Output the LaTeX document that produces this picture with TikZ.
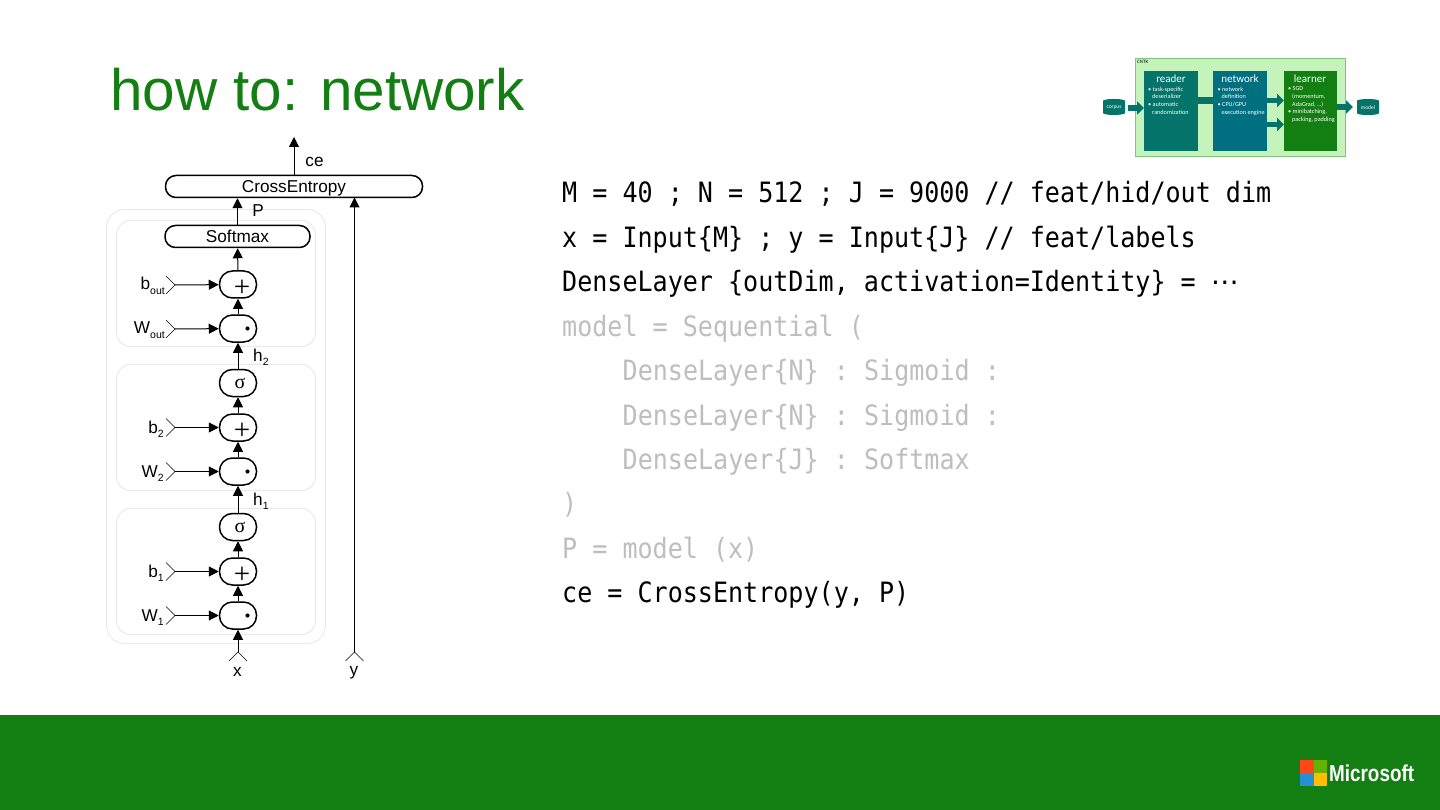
\documentclass[tikz,border=0pt]{standalone}
\usepackage{fontspec}
\setmainfont{Liberation Sans}
\newfontfamily\titlefont{Liberation Sans}
\newfontfamily\codefont[FakeStretch=0.895]{DejaVu Sans Mono}
\newfontfamily\thumbfont{Carlito}
\newfontfamily\serifsym{Liberation Serif}
\newfontfamily\dotsfont{DejaVu Sans}
\newfontfamily\logofont[FakeStretch=0.82]{Liberation Sans}
\usetikzlibrary{arrows.meta,shapes.geometric}
\definecolor{msgreen}{RGB}{19,127,18}
\definecolor{codegray}{RGB}{190,190,190}
\definecolor{frameg}{RGB}{232,232,232}
\definecolor{thumbbg}{RGB}{196,243,188}
\definecolor{thumbedge}{RGB}{130,195,125}
\definecolor{tteal}{RGB}{4,115,105}
\definecolor{tblue}{RGB}{0,112,128}
\tikzset{
 x=1pt,y=-1pt,
 opnode/.style={draw=black,line width=1.5pt,rounded corners=13pt,minimum width=37pt,minimum height=27pt,inner sep=0pt,fill=white},
 wide/.style={draw=black,line width=1.5pt,rounded corners=10.5pt,minimum height=22pt,inner sep=0pt,text height=14pt,text depth=2pt,font=\fontsize{17.2}{17.2}\selectfont,fill=white},
 grp/.style={draw=frameg,line width=0.8pt,rounded corners=14pt},
 conn/.style={black,line width=1pt,-{Triangle[length=10pt,width=10pt]}},
 lbl/.style={inner sep=0pt,font=\fontsize{17.2}{17.2}\selectfont},
 code/.style={anchor=base west,inner sep=0pt,font=\codefont\fontsize{28}{28}\selectfont},
 faded/.style={code,text=codegray},
 tarrow/.style={line width=5.5pt,tteal,-{Triangle[length=7pt,width=13pt]}},
 ttitle/.style={inner sep=0pt,text=white,font=\thumbfont\fontsize{11}{11}\selectfont},
 ttext/.style={inner sep=0pt,anchor=north west,text=white,align=left,font=\thumbfont\fontsize{6.2}{7.7}\selectfont},
 tdb/.style={cylinder,shape border rotate=90,aspect=0.25,draw=none,fill=tteal,inner sep=0pt,minimum width=22pt,minimum height=16pt,text=white,font=\thumbfont\fontsize{5.5}{5.5}\selectfont},
}
\newcommand{\inchevron}[1]{\draw[black,line width=.6pt] ([shift={(-9,-9)}]#1) -- (#1) -- ([shift={(-9,9)}]#1);}
\newcommand{\upchevron}[1]{\draw[black,line width=.6pt] ([shift={(-9,9)}]#1) -- (#1) -- ([shift={(9,9)}]#1);}
\newcommand{\sbs}[1]{\raisebox{-4.5pt}{\fontsize{10.5}{10.5}\selectfont #1}}
\begin{document}
\begin{tikzpicture}
\useasboundingbox (0,0) rectangle (1440,810);
\fill[white] (0,0) rectangle (1440,810);
\fill[msgreen] (0,715) rectangle (1440,810);
\node[anchor=base west,inner sep=0pt,text=msgreen,font=\titlefont\fontsize{58.4}{58.4}\selectfont] (title) at (110,111) {how to: network};

% groups
\draw[grp,rounded corners=18pt] (106.5,209.5) rectangle (325.5,643.5);
\draw[grp] (116.5,220.5) rectangle (315.5,346.5);
\draw[grp] (116.5,364.5) rectangle (315.5,490.5);
\draw[grp] (116.5,508.5) rectangle (315.5,634.5);

% nodes
\node[wide,minimum width=257pt] (ce) at (294,186.5) {CrossEntropy};
\node[wide,minimum width=145pt] (sm) at (237.5,236.5) {Softmax};
\node[opnode] (pout) at (238,284.5) {};
\node[opnode] (tout) at (238,328.5) {};
\node[opnode] (s2) at (238,383) {};
\node[opnode] (p2) at (238,427.5) {};
\node[opnode] (t2) at (238,471.5) {};
\node[opnode] (s1) at (238,527) {};
\node[opnode] (p1) at (238,571.5) {};
\node[opnode] (t1) at (238,615.5) {};
\foreach \n in {pout,p2,p1} \node[inner sep=0pt,font=\serifsym\fontsize{29}{29}\selectfont] at ([xshift=4pt,yshift=-3.5pt]\n.center) {+};
\foreach \n in {tout,t2,t1} \fill ([xshift=9.5pt]\n.center) circle (2.1pt);
\foreach \n in {s2,s1} \node[inner sep=0pt,font=\serifsym\fontsize{20}{20}\selectfont] at ([xshift=2pt,yshift=-0.5pt]\n.center) {σ};

% free ends
\coordinate (top) at (294,137);
\coordinate (xin) at (238,652);
\coordinate (yin) at (354.5,652);
\coordinate (ibout) at (175,285);
\coordinate (iwout) at (175,329);
\coordinate (ib2) at (175,427.5);
\coordinate (iw2) at (175,471.5);
\coordinate (ib1) at (175,571.5);
\coordinate (iw1) at (175,615.5);
\coordinate (yend) at (354.5,197.5);

% connectors
\draw[conn] (ce) -- (top);
\draw[conn] (sm.north) -- (sm.north |- ce.south);
\draw[conn] (yin) -- (yend);
\draw[conn] (pout) -- (sm);
\draw[conn] (tout) -- (pout);
\draw[conn] (s2) -- (tout);
\draw[conn] (p2) -- (s2);
\draw[conn] (t2) -- (p2);
\draw[conn] (s1) -- (t2);
\draw[conn] (p1) -- (s1);
\draw[conn] (t1) -- (p1);
\draw[conn] (xin) -- (t1);
\draw[conn] (ibout) -- (pout);
\draw[conn] (iwout) -- (tout);
\draw[conn] (ib2) -- (p2);
\draw[conn] (iw2) -- (t2);
\draw[conn] (ib1) -- (p1);
\draw[conn] (iw1) -- (t1);
\foreach \c in {ibout,iwout,ib2,iw2,ib1,iw1} {\inchevron{\c}}
\foreach \c in {xin,yin} {\upchevron{\c}}

% labels
\node[lbl] (lce) at (314.5,161.5) {ce};
\node[lbl] (lp) at (258,210.5) {P};
\node[lbl,anchor=base east] at (165,290) {b\sbs{out}};
\node[lbl,anchor=base east] at (165,334) {W\sbs{out}};
\node[lbl,anchor=base west] at (253,361) {h\sbs{2}};
\node[lbl,anchor=base east] at (164,433) {b\sbs{2}};
\node[lbl,anchor=base east] at (164,477) {W\sbs{2}};
\node[lbl,anchor=base west] at (253,505) {h\sbs{1}};
\node[lbl,anchor=base east] at (164,577) {b\sbs{1}};
\node[lbl,anchor=base east] at (164,621) {W\sbs{1}};
\node[lbl] at (237.5,672) {x};
\node[lbl] at (354,672.5) {y};

% code
\node[code] at (562,203) {M = 40 ; N = 512 ; J = 9000 // feat/hid/out dim};
\node[code] at (562,247.3) {x = Input\{M\} ; y = Input\{J\} // feat/labels};
\node[code] at (562,291.7) {DenseLayer \{outDim, activation=Identity\} = {\dotsfont ⋯}};
\node[faded] at (562,336) {model = Sequential (};
\node[faded] at (622.5,380.5) {DenseLayer\{N\} : Sigmoid :};
\node[faded] at (622.5,425) {DenseLayer\{N\} : Sigmoid :};
\node[faded] at (622.5,469) {DenseLayer\{J\} : Softmax};
\node[faded] at (562,513.5) {)};
\node[faded] at (562,558) {P = model (x)};
\node[code] at (562,602.5) {ce = CrossEntropy(y, P)};

% thumbnail
\fill[thumbbg,draw=thumbedge,line width=.7pt] (1135.5,58.5) rectangle (1345.5,156.5);
\node[anchor=north west,inner sep=0pt,font=\thumbfont\fontsize{5}{5}\selectfont] at (1137,60.5) {CNTK};
\fill[tteal] (1144,71) rectangle (1198,151);
\fill[tblue] (1213,71) rectangle (1267,151);
\fill[msgreen] (1284,71) rectangle (1337,151);
\node[ttitle] at (1171,79) {reader};
\node[ttitle] at (1240,78.5) {network};
\node[ttitle] at (1310,79) {learner};
\node[ttext] at (1148,86.5) {• task-specific\\\hspace*{4pt}deserializer\\• automatic\\\hspace*{4pt}randomization};
\node[ttext] at (1217.5,86.5) {• network\\\hspace*{4pt}definition\\• CPU/GPU\\\hspace*{4pt}execution engine};
\node[ttext] at (1288,86.5) {• SGD\\\hspace*{4pt}(momentum,\\\hspace*{4pt}AdaGrad, …)\\• minibatching,\\\hspace*{4pt}packing, padding};
\node[tdb] (corpus) at (1114,108) {corpus};
\node[tdb] (modeldb) at (1368,108) {model};
\coordinate (a1) at (1128,108); \coordinate (a2) at (1144,108);
\draw[tarrow] (a1) -- (a2);
\fill[tteal] (1198,97.5) rectangle (1213,104);
\coordinate (c1) at (1267,100.5); \coordinate (c2) at (1284,100.5);
\draw[tarrow] (c1) -- (c2);
\coordinate (d1) at (1267,124.5); \coordinate (d2) at (1284,124.5);
\draw[tarrow] (d1) -- (d2);
\coordinate (e1) at (1337,107); \coordinate (e2) at (1353,107);
\draw[tarrow] (e1) -- (e2);

% logo
\fill[red!60!orange!90!white] (1300,760) rectangle (1313.5,773);
\fill[green!50!black!60!yellow] (1313.5,760) rectangle (1327,773);
\fill[cyan!70!blue!90!white] (1300,773) rectangle (1313.5,786);
\fill[orange!50!yellow] (1313.5,773) rectangle (1327,786);
\node[anchor=west,inner sep=0pt,text=white,font=\logofont\fontsize{23}{23}\selectfont\bfseries] (ms) at (1329,773.5) {Microsoft};
\end{tikzpicture}
\end{document}
